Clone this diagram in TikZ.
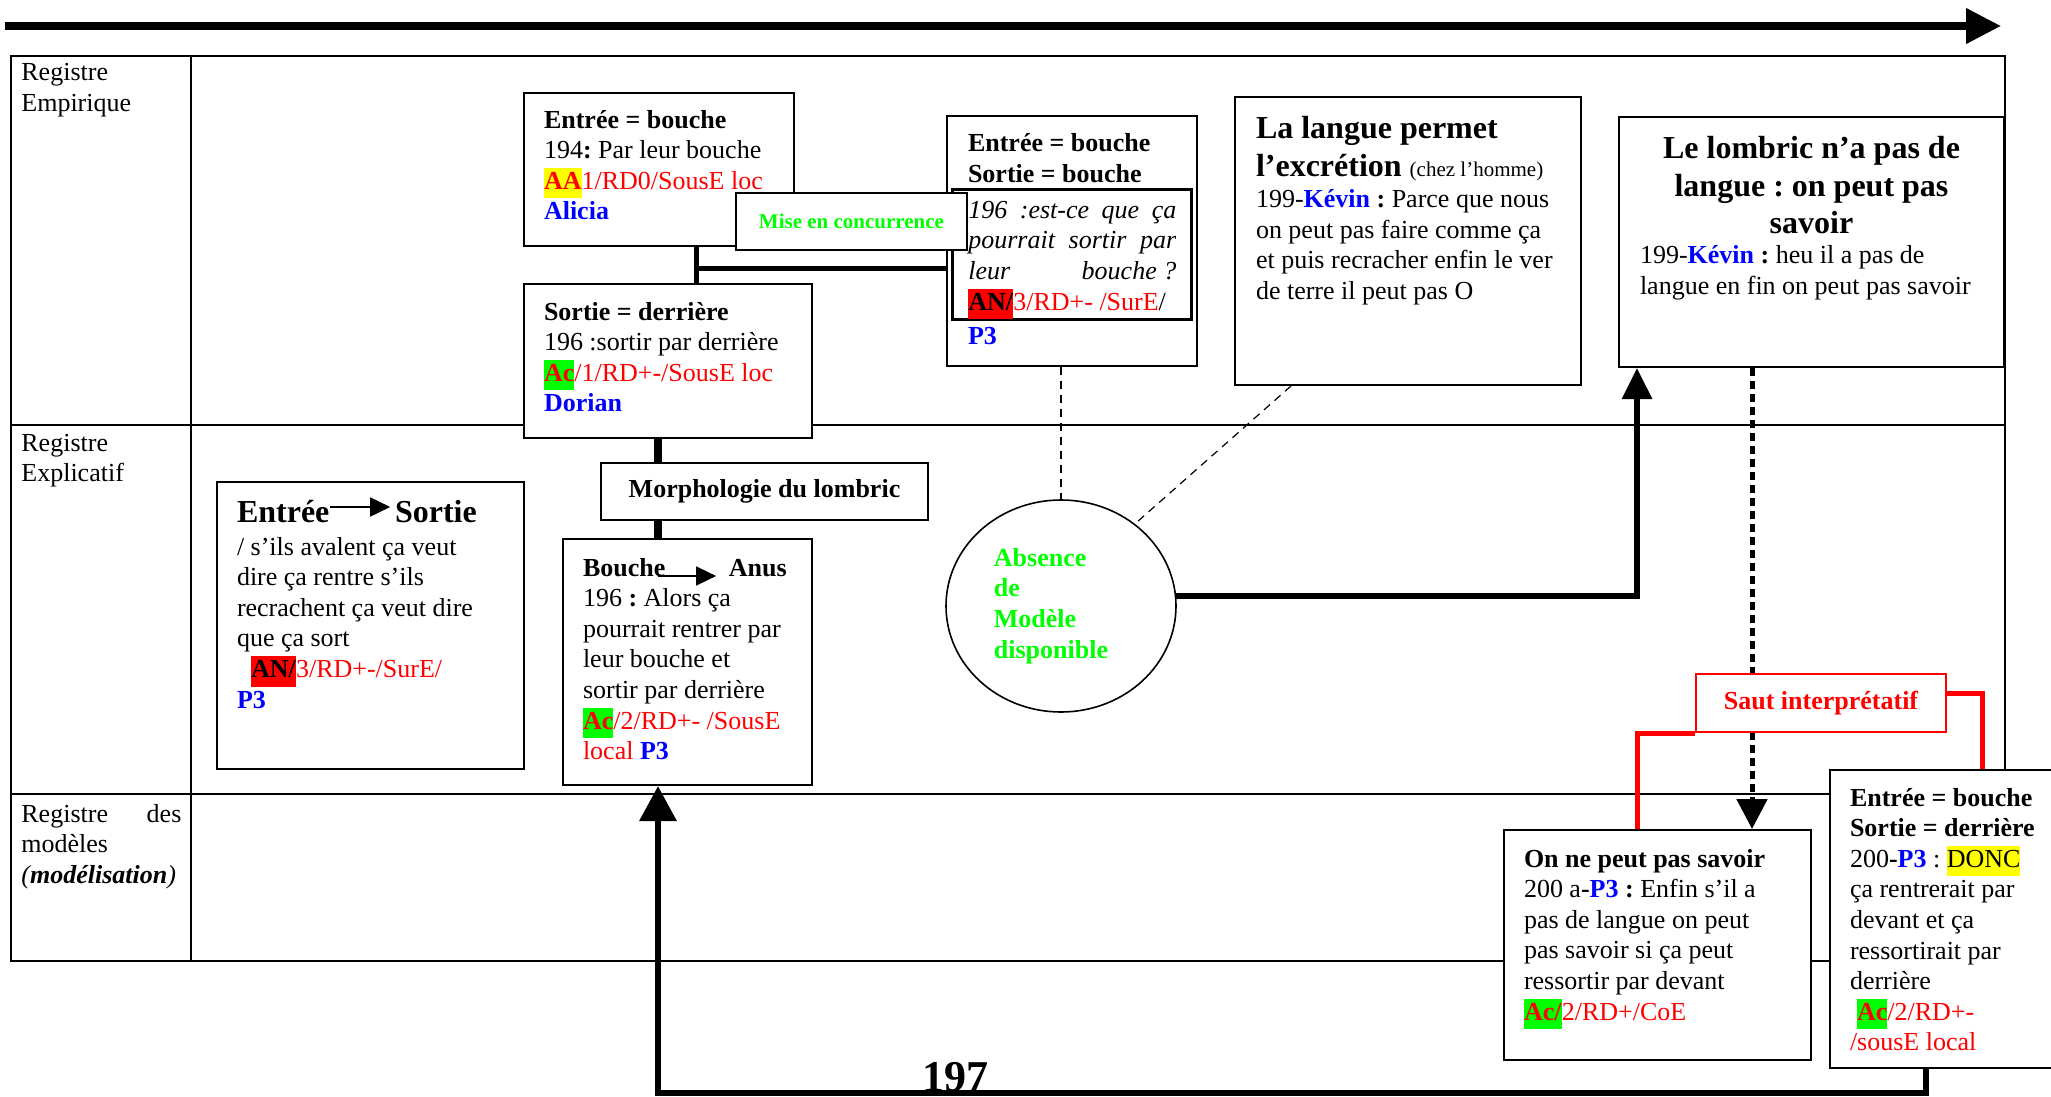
\documentclass[tikz,border=0pt]{standalone}
\usepackage{fontspec}
\setmainfont{Liberation Serif}
\usetikzlibrary{arrows.meta,shapes.geometric}
\frenchspacing

\definecolor{pred}{RGB}{255,0,0}
\definecolor{pblue}{RGB}{0,0,255}
\definecolor{pgreen}{RGB}{0,255,0}
\definecolor{hlyellow}{RGB}{255,255,0}
\definecolor{hlgreen}{RGB}{0,255,0}
\definecolor{hlred}{RGB}{255,0,0}

\newcommand{\bodyfont}{\fontsize{13}{15.3}\selectfont}
\newcommand{\bigfont}{\fontsize{16}{19}\selectfont\bfseries}
\newcommand{\pad}[1]{\leftskip=#1\spaceskip=0pt\relax}
\newcommand{\hilite}[2]{{\setlength{\fboxsep}{0pt}\colorbox{#1}{\strut#2}}}
\newcommand{\inarrow}[2]{\tikz[baseline=0pt]\draw[line width=0.8pt,-{Triangle[length=10pt,width=9.5pt]}] (0pt,#2) -- (#1,#2);}
\newcommand{\spreadline}[1]{\makebox[104pt][s]{#1}}

\begin{document}
\begin{tikzpicture}[x=0.5pt,y=-0.5pt,font=\bodyfont]
  \tikzset{
    rule/.style={line width=1pt},
    card/.style n args={3}{draw, line width=1pt, fill=white, anchor=north west,
      inner sep=0pt, text width=#1, text height=#2, text depth=#3},
    tabbox/.style={draw, line width=1pt, fill=white, anchor=north west,
      inner sep=0pt, minimum height=28.5pt, font=\bodyfont\bfseries},
    regl/.style={anchor=base west, inner sep=0pt, text width=80pt},
    timeline/.style={line width=3.6pt, -{Triangle[length=17.5pt,width=17pt]}},
    bar/.style={line width=2.5pt},
    spine/.style={line width=3.8pt},
    loopback/.style={line width=3.2pt, -{Triangle[length=17.5pt,width=18pt]}},
    rise/.style={line width=3pt, -{Triangle[length=15.5pt,width=14.5pt]}},
    drop/.style={line width=2.5pt, dash pattern=on 4pt off 2.5pt,
      -{Triangle[length=15pt,width=15pt]}},
    hint/.style={line width=0.6pt, dash pattern=on 4pt off 3pt},
    jump/.style={draw=pred, line width=2.5pt}
  }
  \useasboundingbox (0,0) rectangle (2051,1097);
  \clip (0,0) rectangle (2051,1097);

  % --- time axis
  \coordinate (t0) at (5,26);
  \coordinate (t1) at (2001,26);
  \draw[timeline] (t0) -- (t1);

  % --- register table
  \draw[rule] (11,56) rectangle (2005,961);
  \draw[rule] (191,56) -- (191,961);
  \draw[rule] (11,425) -- (2005,425);
  \draw[rule] (11,794) -- (2005,794);

  \node[regl] (regE) at (21,81) {Registre\par Empirique\par};
  \node[regl] (regX) at (21,451) {Registre\par Explicatif\par};
  \node[regl, align=justify] (regM) at (21,822) {Registre des\linebreak modèles\par
    \textit{(\textbf{modélisation})}\par};

  % --- empirical register
  \node[card={135pt}{17.5pt}{59pt}] (entA) at (523,92) {\pad{10pt}\textbf{Entrée = bouche}\par
    194\textbf{:} Par leur bouche\par
    \hilite{hlyellow}{\textcolor{pred}{\textbf{AA}}}\textcolor{pred}{1/RD0/SousE loc}\par
    \textcolor{pblue}{\textbf{Alicia}}\par};
  \node[card={144pt}{18pt}{59pt}] (sortB) at (523,283) {\pad{10pt}\textbf{Sortie = derrière}\par
    196 :sortir par derrière\par
    \hilite{hlgreen}{\textcolor{pred}{\textbf{Ac}}}\textcolor{pred}{/1/RD+-/SousE loc}\par
    \textcolor{pblue}{\textbf{Dorian}}\par};
  \node[card={125pt}{18pt}{107pt}] (entC) at (946,115) {\pad{10.5pt}\textbf{Entrée = bouche}\par
    \textbf{Sortie = bouche}\par
    \vspace{65.9pt}\textcolor{pblue}{\textbf{P3}}\par};
  \node[card={119.5pt}{14.5pt}{50.5pt}, line width=1.3pt] (qC) at (951,188) {\pad{8pt}\itshape
    \spreadline{196 :est-ce que ça}\par
    \spreadline{pourrait sortir par}\par
    \spreadline{leur \mbox{bouche ?}}\par
    \upshape\hilite{hlred}{\textbf{AN/}}\textcolor{pred}{3/RD+- /SurE}/\par};
  \node[tabbox, minimum width=115.5pt, text=pgreen,
    font=\fontsize{10.5}{12}\selectfont\bfseries] (mise) at (735,192) {Mise en concurrence};
  \node[card={173pt}{21pt}{123pt}] (langD) at (1234,96) {\pad{10.5pt}{\bigfont La langue permet\par
    l’excrétion {\mdseries\fontsize{10.5}{12}\selectfont (chez l’homme)}\par}
    199-\textcolor{pblue}{\textbf{Kévin}}\textbf{ :} Parce que nous\par
    on peut pas faire comme ça\par
    et puis recracher enfin le ver\par
    de terre il peut pas O\par};
  \node[card={192.5pt}{21pt}{104pt}] (lomE) at (1618,116) {\spaceskip=0pt
    {\centering\fontsize{16}{18.5}\selectfont\bfseries Le lombric n’a pas de\par
    langue : on peut pas\par savoir\par}
    \pad{10.5pt}199-\textcolor{pblue}{\textbf{Kévin}}\textbf{ :} heu il a pas de\par
    langue en fin on peut pas savoir\par};

  % --- explanatory register
  \node[card={153.5pt}{20pt}{123.5pt}] (esH) at (216,481) {\pad{10pt}{\bigfont Entrée\inarrow{30pt}{7.5pt}\kern2pt Sortie\par}
    \vspace{1.2pt}/ s’ils avalent ça veut\par
    dire ça rentre s’ils\par
    recrachent ça veut dire\par
    que ça sort\par
    \hspace*{7pt}\hilite{hlred}{\textbf{AN/}}\textcolor{pred}{3/RD+-/SurE/}\par
    \textcolor{pblue}{\textbf{P3}}\par};
  \node[tabbox, minimum width=163.5pt] (morph) at (600,462) {Morphologie du lombric};
  \node[card={124.5pt}{18.5pt}{104.5pt}] (bouche) at (562,538) {\pad{10pt}\textbf{Bouche}\kern-4pt\inarrow{29pt}{0pt}\kern6pt\textbf{Anus}\par
    196 \textbf{:} Alors ça\par
    pourrait rentrer par\par
    leur bouche et\par
    sortir par derrière\par
    \hilite{hlgreen}{\textcolor{pred}{\textbf{Ac}}}\textcolor{pred}{/2/RD+- /SousE}\par
    \textcolor{pred}{local} \textcolor{pblue}{\textbf{P3}}\par};
  \node[ellipse, draw, line width=0.8pt, fill=white, minimum width=115pt, minimum height=106pt,
    inner sep=0pt, align=left, text=pgreen, font=\bodyfont\bfseries] (absM) at (1061,606)
    {Absence\\de\\Modèle\\disponible\hspace*{10pt}};

  % --- model register
  \node[card={153.5pt}{18.5pt}{96.5pt}] (nesF) at (1503,829) {\pad{10pt}\textbf{On ne peut pas savoir}\par
    200 a\textbf{-}\textcolor{pblue}{\textbf{P3}}\textbf{ :} Enfin s’il a\par
    pas de langue on peut\par
    pas savoir si ça peut\par
    ressortir par devant\par
    \hilite{hlgreen}{\textcolor{pred}{\textbf{Ac/}}}\textcolor{pred}{2/RD+/CoE}\par};
  \node[card={120pt}{18pt}{131pt}] (egG) at (1829,769) {\pad{10pt}\textbf{Entrée = bouche}\par
    \textbf{Sortie = derrière}\par
    200\textbf{-}\textcolor{pblue}{\textbf{P3}} : \hilite{hlyellow}{DONC}\par
    ça rentrerait par\par
    devant et ça\par
    ressortirait par\par
    derrière\par
    \hspace*{3.5pt}\hilite{hlgreen}{\textcolor{pred}{\textbf{Ac}}}\textcolor{pred}{/2/RD+-}\par
    \textcolor{pred}{/sousE local}\par};
  \node[anchor=base, inner sep=0pt, font=\fontsize{22}{26}\selectfont\bfseries] (n197) at (955,1091) {197};

  % --- connectors
  \coordinate (brk) at (696,268);
  \coordinate (colM) at (658,0);
  \coordinate (colR) at (1637,0);
  \coordinate (colD) at (1752,0);
  \coordinate (colH) at (1291,0);
  \coordinate (colJ) at (1982,0);
  \coordinate (colG) at (1926,1093);

  \draw[bar] (entA.south -| brk) -- (sortB.north -| brk);
  \draw[bar] (brk) -- (brk -| entC.west);
  \draw[spine] (sortB.south -| colM) -- (morph.north -| colM);
  \draw[spine] (morph.south -| colM) -- (bouche.north -| colM);
  \draw[loopback] (egG.south -| colG) -- (colG) -- (colG -| colM) -- (bouche.south -| colM);

  \draw[hint] (absM.north |- entC.south) -- (absM.north);
  \draw[hint] (langD.south -| colH) -- (absM.48);
  \draw[rise] (absM.5) -| (lomE.south -| colR);
  \draw[drop] (lomE.south -| colD) -- (nesF.north -| colD);

  % --- interpretive jump
  \node[tabbox, minimum width=125pt, minimum height=29pt, draw=pred, text=pred] (saut) at (1695,673) {Saut interprétatif};
  \draw[jump] (saut.south west) -| (nesF.north -| colR);
  \draw[jump] ([yshift=5pt]saut.east) -| (egG.north -| colJ);
\end{tikzpicture}
\end{document}
